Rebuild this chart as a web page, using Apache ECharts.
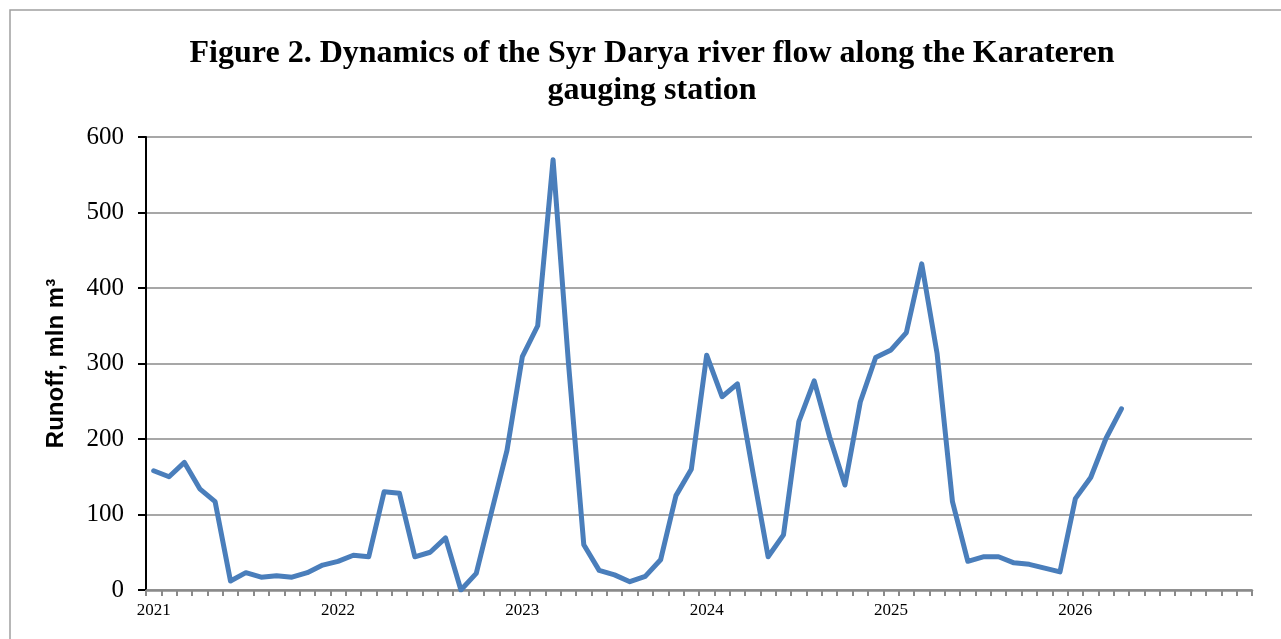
<!DOCTYPE html>
<html>
<head>
<meta charset="utf-8">
<script src="https://cdn.jsdelivr.net/npm/echarts@6/dist/echarts.min.js"></script>
<style>
  html, body { margin: 0; padding: 0; background: #fff; }
  #chart { width: 1281px; height: 639px; }
</style>
</head>
<body>
<div id="chart"></div>
<script>
var years = ['2021', '2022', '2023', '2024', '2025', '2026'];
var months = ['01', '02', '03', '04', '05', '06', '07', '08', '09', '10', '11', '12'];
// monthly runoff, mln m3 (Jan 2021 .. Apr 2026)
var runoff2021 = [158, 150, 169, 134, 117, 12, 23, 17, 19, 17, 23, 33];
var runoff2022 = [38, 46, 44, 130, 128, 44, 50, 69, 0, 22, 104, 185];
var runoff2023 = [309, 350, 570, 301, 60, 26, 20, 11, 18, 40, 125, 160];
var runoff2024 = [311, 256, 273, 157, 44, 73, 223, 277, 203, 139, 249, 308];
var runoff2025 = [318, 341, 432, 313, 117, 38, 44, 44, 36, 34, 29, 24];
var runoff2026 = [121, 149, 201, 240];

var categories = [];
years.forEach(function (y) {
    months.forEach(function (m) {
        categories.push(y + '-' + m);
    });
});
var values = [].concat(runoff2021, runoff2022, runoff2023, runoff2024, runoff2025, runoff2026);

var chart = echarts.init(document.getElementById('chart'));
var option = {
    animation: false,
    backgroundColor: '#fff',
    title: {
        text: 'Figure 2. Dynamics of the Syr Darya river flow along the Karateren\ngauging station',
        left: 647,
        top: 30,
        textAlign: 'center',
        textStyle: {
            fontFamily: 'Liberation Serif',
            fontWeight: 'bold',
            fontSize: 32,
            lineHeight: 37,
            color: '#000'
        }
    },
    graphic: [{
        type: 'rect',
        shape: { x: 10, y: 10, width: 1300, height: 700 },
        style: { fill: 'none', stroke: '#a0a0a0', lineWidth: 1.5 },
        silent: true
    }],
    grid: { left: 146, right: 29, top: 137, bottom: 49 },
    xAxis: {
        type: 'category',
        data: categories,
        boundaryGap: true,
        axisLine: { lineStyle: { color: '#8a8a8a', width: 2.5 } },
        axisTick: { show: true, interval: 0, length: 6, lineStyle: { color: '#8a8a8a', width: 2 } },
        axisLabel: {
            interval: 11,
            margin: 12,
            fontFamily: 'Liberation Serif',
            fontSize: 17,
            color: '#000',
            formatter: function (v) { return v.slice(0, 4); }
        },
        splitLine: { show: false }
    },
    yAxis: {
        type: 'value',
        min: 0,
        max: 600,
        interval: 100,
        name: 'Runoff, mln m³',
        nameLocation: 'middle',
        nameGap: 78,
        nameTextStyle: {
            fontFamily: 'Liberation Sans',
            fontWeight: 'bold',
            fontSize: 24,
            color: '#000'
        },
        axisLine: { show: true, lineStyle: { color: '#000', width: 2 } },
        axisTick: { show: true, length: 8, lineStyle: { color: '#000', width: 2 } },
        axisLabel: {
            margin: 22,
            fontFamily: 'Liberation Serif',
            fontSize: 25,
            color: '#000'
        },
        splitLine: { lineStyle: { color: '#8a8a8a', width: 1.5 } }
    },
    series: [{
        type: 'line',
        data: values,
        showSymbol: false,
        symbol: 'none',
        lineStyle: { color: '#4a7ebb', width: 5, cap: 'round', join: 'round' },
        itemStyle: { color: '#4a7ebb' }
    }]
};
chart.setOption(option);
</script>
</body>
</html>
